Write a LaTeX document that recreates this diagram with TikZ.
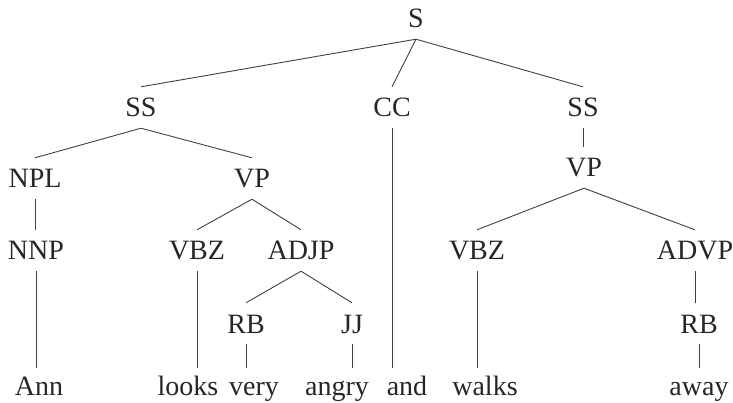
\documentclass[tikz,border=0pt]{standalone}
\usepackage{fontspec}
\setmainfont{Liberation Serif}
\begin{document}
\begin{tikzpicture}[x=1pt,y=-1pt,
  every node/.style={font=\fontsize{28}{30}\selectfont, text=black!85,
    anchor=base, inner xsep=0pt, inner ysep=11pt,
    text height=19pt, text depth=0pt},
  leaf/.style={inner ysep=8pt},
  branch/.style={draw=black!75, line width=0.9pt}]
\useasboundingbox (0,0) rectangle (733,403);

% category labels, placed on their baselines
\node (S)    at (416,28)  {S};
\node (SSa)  at (141,117) {SS};
\node (CC)   at (392,117) {CC};
\node (SSb)  at (583,117) {SS};
\node (NPL)  at (35,188)  {NPL};
\node (VPa)  at (252,188) {VP};
\node (VPb)  at (584,177) {VP};
\node (NNP)  at (36,260)  {NNP};
\node (VBZa) at (197,260) {VBZ};
\node (ADJP) at (301,260) {ADJP};
\node (VBZb) at (477,260) {VBZ};
\node (ADVP) at (695,260) {ADVP};
\node (RBa)  at (246,333) {RB};
\node (JJ)   at (352,333) {JJ};
\node (RBb)  at (699,333) {RB};

% words
\node[leaf] (w1) at (39,395)  {Ann};
\node[leaf] (w2) at (188,395) {looks};
\node[leaf] (w3) at (254,395) {very};
\node[leaf] (w4) at (337,395) {angry};
\node[leaf] (w5) at (407,395) {and};
\node[leaf] (w6) at (485,395) {walks};
\node[leaf] (w7) at (699,395) {away};

% branches between categories
\draw[branch] (S.south) -- (SSa.north);
\draw[branch] (S.south) -- (CC.north);
\draw[branch] (S.south) -- (SSb.north);
\draw[branch] (SSa.south) -- (NPL.north);
\draw[branch] (SSa.south) -- (VPa.north);
\draw[branch] (SSb.south) -- (SSb.south |- VPb.north);
\draw[branch] (NPL.south) -- (NPL.south |- NNP.north);
\draw[branch] (VPa.south) -- (VBZa.north);
\draw[branch] (VPa.south) -- (ADJP.north);
\draw[branch] (VPb.south) -- (VBZb.north);
\draw[branch] (VPb.south) -- (ADVP.north);
\draw[branch] (ADJP.south) -- (RBa.north);
\draw[branch] (ADJP.south) -- (JJ.north);
\draw[branch] (ADVP.south) -- (ADVP.south |- RBb.north);

% branches down to the words
\draw[branch] (NNP.south) -- (NNP.south |- w1.north);
\draw[branch] (VBZa.south) -- (VBZa.south |- w2.north);
\draw[branch] (RBa.south) -- (RBa.south |- w3.north);
\draw[branch] (JJ.south) -- (JJ.south |- w4.north);
\draw[branch] (CC.south) -- (CC.south |- w5.north);
\draw[branch] (VBZb.south) -- (VBZb.south |- w6.north);
\draw[branch] (RBb.south) -- (RBb.south |- w7.north);
\end{tikzpicture}
\end{document}
